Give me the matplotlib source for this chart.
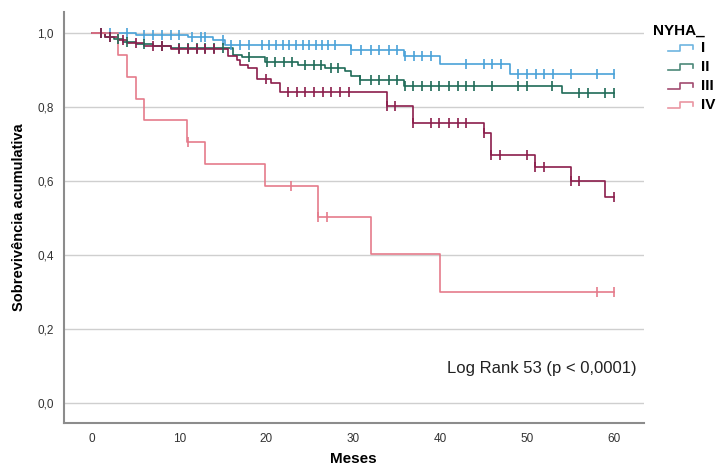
import numpy as np
import matplotlib.pyplot as plt
from matplotlib.lines import Line2D

plt.rcParams['font.family'] = ['Liberation Sans', 'DejaVu Sans']

groups = ["I", "II", "III", "IV"]
colors = ["#4aa2d8", "#1f6b58", "#8b1e4c", "#e57b8b"]

# step times (months) and survival after each step
t_I = [0, 5, 11, 13.9, 15.3, 29.7, 35.8, 40.0, 48.0]
s_I = [1.0, 0.995, 0.99, 0.982, 0.97, 0.955, 0.94, 0.918, 0.89]
c_I = [1, 2, 4, 6, 7, 8, 9, 10, 11.5, 12.5, 13, 15, 16, 17, 18, 19.5, 20.3, 21.1,
       21.9, 22.6, 23.4, 24.2, 24.9, 25.7, 26.4, 27.1, 27.9, 29.8, 30.9, 32, 33,
       34.1, 35, 36, 37, 37.9, 38.9, 43, 45, 46, 47, 49, 50, 51, 52, 53, 55, 58, 60]

t_II = [0, 1.5, 2.5, 3.5, 5, 7, 9, 16.2, 17.2, 19.9, 23.7, 26.8, 29.1, 29.8, 30.8, 35.8, 54.0]
s_II = [1.0, 0.99, 0.984, 0.978, 0.972, 0.966, 0.96, 0.943, 0.935, 0.923, 0.915,
        0.907, 0.898, 0.884, 0.874, 0.859, 0.839]
c_II = [1, 2, 3, 4, 6, 8, 10, 11, 12, 13, 14, 15, 18, 20.1, 21, 22, 23, 24.5, 25.5,
        26.3, 27.5, 28.3, 30.8, 32, 33, 34.1, 35, 36, 36.9, 37.9, 38.9, 39.9, 41, 42,
        43, 43.9, 46, 49, 50, 52.9, 56, 57, 59, 60]

t_III = [0, 1.5, 3, 4, 6, 9, 15.6, 16.6, 17, 17.9, 18.9, 20.5, 21.6, 33.9, 36.9,
         45.1, 45.9, 50.9, 55.0, 59.0]
s_III = [1.0, 0.99, 0.982, 0.975, 0.966, 0.957, 0.94, 0.928, 0.916, 0.906, 0.876,
         0.866, 0.843, 0.804, 0.759, 0.73, 0.671, 0.64, 0.600, 0.559]
c_III = [1, 2, 3.5, 5, 7, 8, 10, 11, 12, 13, 14, 20, 22.5, 23.5, 24.5, 25.5, 26.5,
         27.5, 28.5, 29.5, 33.9, 34.8, 36.9, 38.9, 39.9, 41, 42, 43, 45.1, 45.9,
         46.9, 50, 50.9, 52, 55, 56, 60]

t_IV = [0, 3, 4, 5, 6, 10.9, 13, 19.9, 26, 32, 40]
s_IV = [1.0, 0.941, 0.882, 0.824, 0.765, 0.706, 0.647, 0.588, 0.504, 0.403, 0.302]
c_IV = [11, 22.9, 26, 27, 58, 60]

series = [(t_I, s_I, c_I), (t_II, s_II, c_II), (t_III, s_III, c_III), (t_IV, s_IV, c_IV)]

fig = plt.figure(figsize=(7.18, 4.68), dpi=100)
ax = fig.add_axes([0.0886, 0.0962, 0.8078, 0.8782])

for (t, s, c), col in zip(series, colors):
    t = np.asarray(t, float)
    s = np.asarray(s, float)
    xs = np.append(t, 60)
    ys = np.append(s, s[-1])
    ax.step(xs, ys, where="post", color=col, lw=1.2, zorder=3)
    c = np.asarray(c, float)
    idx = np.searchsorted(t, c, side="right") - 1
    ax.plot(c, s[idx], ls="none", marker="|", ms=7, mew=1.2, color=col, zorder=4)

ax.set_xlim(-3.3, 63.4)
ax.set_ylim(-0.053, 1.058)
ax.set_xticks(range(0, 61, 10))
ax.set_yticks(np.arange(0, 1.01, 0.2))
ax.set_yticklabels([f"{v:.1f}".replace(".", ",") for v in np.arange(0, 1.01, 0.2)])
ax.tick_params(length=0, labelsize=8.5, colors="#333333", pad=7)
ax.grid(axis="y", color="#cfcfcf", lw=1)
ax.set_axisbelow(True)
for side in ["top", "right"]:
    ax.spines[side].set_visible(False)
for side in ["left", "bottom"]:
    ax.spines[side].set_color("#8c8c8c")
    ax.spines[side].set_linewidth(1.5)

ax.set_xlabel("Meses", fontsize=11, fontweight="bold", labelpad=5)
ax.set_ylabel("Sobrevivência acumulativa", fontsize=10.5, fontweight="bold", labelpad=8)

ax.text(62.6, 0.095, "Log Rank 53 (p < 0,0001)", fontsize=12, ha="right", va="center",
        color="#222222")

# legend drawn by hand (step-shaped handles)
W, H = 718, 468
fig.text(653 / W, 1 - 31 / H, "NYHA_", fontsize=11, fontweight="bold", va="center")
for i, (g, col) in enumerate(zip(groups, colors)):
    yc = 48 + i * 19
    hx = np.array([668, 680, 680, 693, 693]) / W
    hy = 1 - np.array([yc + 3, yc + 3, yc - 3, yc - 3, yc + 1]) / H
    fig.add_artist(Line2D(hx, hy, color=col, lw=1.2, alpha=0.8, transform=fig.transFigure))
    fig.text(701 / W, 1 - yc / H, g, fontsize=11, fontweight="bold", va="center")

fig.savefig("out.png", dpi=100)
